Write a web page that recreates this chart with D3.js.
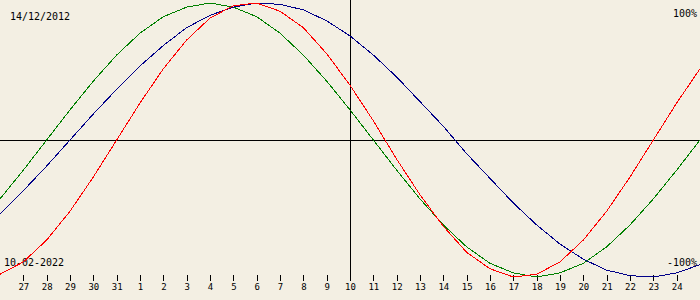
<!DOCTYPE html>
<html>
<head>
<meta charset="utf-8">
<script src="https://cdn.jsdelivr.net/npm/d3@7"></script>
<style>
  body { margin: 0; background: #f3efe3; }
  svg { display: block; }
  text { font-family: "DejaVu Sans Mono", monospace; }
</style>
</head>
<body>
<svg id="chart" width="700" height="300"></svg>
<script>
// Day offsets around the target date and their labels
const offsets = d3.range(-15, 16);
const dayLabels = ['26', '27', '28', '29', '30', '31', '1', '2', '3', '4', '5', '6', '7', '8', '9',
    '10', '11', '12', '13', '14', '15', '16', '17', '18', '19', '20', '21', '22', '23', '24', '25'];

// Values, one per day (-1 .. 1)
const physical = [-0.98, -0.89, -0.73, -0.52, -0.27, 0, 0.27, 0.52, 0.73, 0.89, 0.98, 1.0, 0.94, 0.82, 0.63,
    0.40, 0.14, -0.14, -0.40, -0.63, -0.82, -0.94, -1.0, -0.98, -0.89, -0.73, -0.52, -0.27, 0, 0.27, 0.52];
const emotional = [-0.43, -0.22, 0, 0.22, 0.43, 0.62, 0.78, 0.90, 0.97, 1.0, 0.97, 0.90, 0.78, 0.62, 0.43,
    0.22, 0, -0.22, -0.43, -0.62, -0.78, -0.90, -0.97, -1.0, -0.97, -0.90, -0.78, -0.62, -0.43, -0.22, 0];
const intellectual = [-0.54, -0.37, -0.19, 0, 0.19, 0.37, 0.54, 0.69, 0.82, 0.91, 0.97, 1.0, 0.99, 0.95, 0.87,
    0.76, 0.62, 0.46, 0.28, 0.10, -0.10, -0.28, -0.46, -0.62, -0.76, -0.87, -0.95, -0.99, -1.0, -0.97, -0.91];

const birthDate = '14/12/2012';
const targetDate = '10-02-2022';

const width = 700, height = 300;
const svg = d3.select('#chart');

const x = d3.scaleLinear().domain([-15, 15]).range([0, width]);
const y = d3.scaleLinear().domain([-1, 1]).range([277, 3]);

// Axes lines
svg.append('line')
    .attr('x1', 0).attr('x2', width)
    .attr('y1', y(0)).attr('y2', y(0))
    .style('stroke', '#000').style('shape-rendering', 'crispEdges');

svg.append('line')
    .attr('x1', x(0)).attr('x2', x(0))
    .attr('y1', 0).attr('y2', 281)
    .style('stroke', '#000').style('shape-rendering', 'crispEdges');

// Day ticks (skip the two edge days)
const tickOffsets = offsets.filter(d => d > -15 && d < 15);
const axis = d3.axisBottom(x)
    .tickValues(tickOffsets)
    .tickSize(6)
    .tickPadding(3)
    .tickFormat(d => dayLabels[d + 15]);

const axisG = svg.append('g')
    .attr('transform', 'translate(0,275)')
    .call(axis);
axisG.select('.domain').remove();
axisG.selectAll('line').style('stroke', '#000').style('shape-rendering', 'crispEdges');
axisG.selectAll('text')
    .style('font-family', '"DejaVu Sans Mono", monospace')
    .style('font-size', '9px')
    .style('fill', '#000');

// Labels (drawn under the curves)
const label = (tx, ty, str, anchor) => svg.append('text')
    .attr('x', tx).attr('y', ty)
    .attr('text-anchor', anchor)
    .attr('textLength', str.length * 6)
    .attr('lengthAdjust', 'spacingAndGlyphs')
    .style('font-size', '11px')
    .text(str);

label(10, 20, birthDate, 'start');
label(4, 266, targetDate, 'start');
label(697, 17, '100%', 'end');
label(697, 266, '-100%', 'end');

// Curves
const series = [
    { values: emotional, color: '#008000' },
    { values: intellectual, color: '#000088' },
    { values: physical, color: '#ff0000' }
];

const line = d3.line()
    .x((d, i) => x(offsets[i]))
    .y(d => y(d));

series.forEach(s => {
    svg.append('path')
        .datum(s.values)
        .attr('d', line)
        .style('fill', 'none')
        .style('stroke', s.color)
        .style('stroke-width', 1)
        .style('shape-rendering', 'crispEdges');
});
</script>
</body>
</html>
